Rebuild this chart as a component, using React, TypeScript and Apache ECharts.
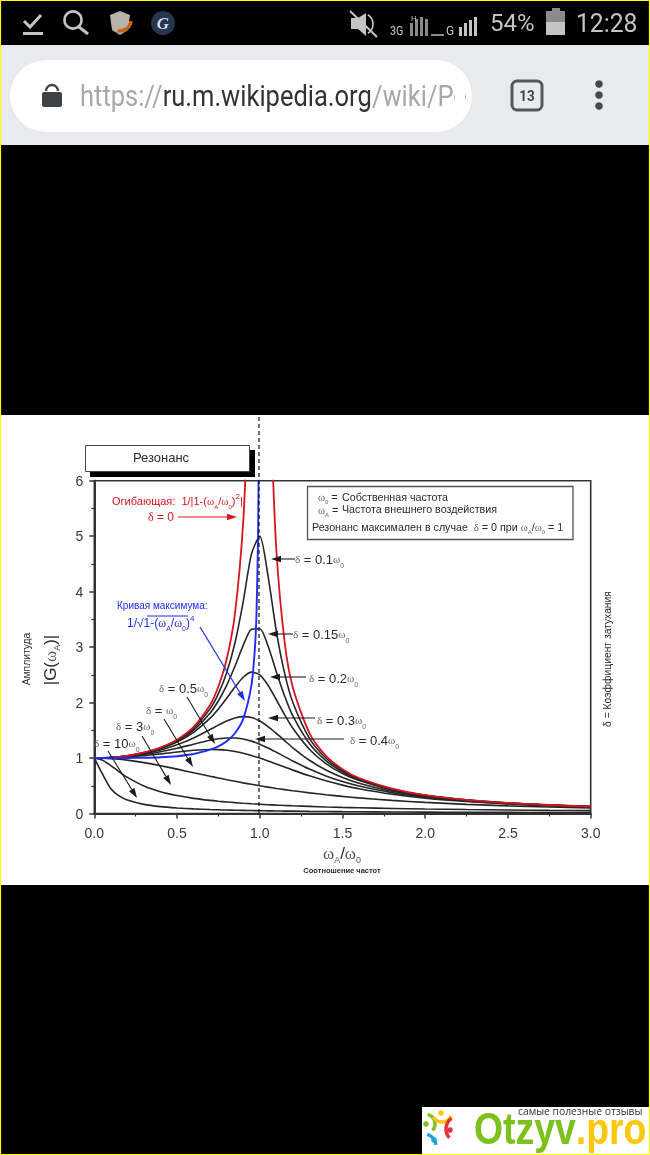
import React, { useEffect, useRef } from "react";
import * as echarts from "echarts";

// Frequency ratio samples used by the black family of curves
const ratios = [0, 0.05, 0.1, 0.15, 0.2, 0.3, 0.4, 0.5, 0.6, 0.7, 0.75, 0.8, 0.85, 0.9, 0.95, 1, 1.05, 1.1, 1.15, 1.2, 1.3, 1.4, 1.5, 1.6, 1.8, 2, 2.25, 2.5, 2.75, 3];
const delta01 = [1, 1.002, 1.01, 1.023, 1.041, 1.097, 1.185, 1.322, 1.536, 1.891, 2.162, 2.538, 3.073, 3.82, 4.68, 5, 4.28, 3.29, 2.53, 2.0, 1.356, 1.0, 0.778, 0.628, 0.441, 0.33, 0.245, 0.19, 0.152, 0.125];
const delta015 = [1, 1.002, 1.01, 1.022, 1.04, 1.094, 1.179, 1.307, 1.504, 1.813, 2.033, 2.311, 2.654, 3.03, 3.32, 3.33, 3.02, 2.556, 2.12, 1.759, 1.262, 0.954, 0.753, 0.613, 0.434, 0.327, 0.243, 0.189, 0.151, 0.124];
const delta02 = [1, 1.002, 1.009, 1.021, 1.038, 1.089, 1.169, 1.288, 1.463, 1.719, 1.885, 2.076, 2.279, 2.457, 2.549, 2.5, 2.313, 2.051, 1.783, 1.536, 1.157, 0.9, 0.721, 0.593, 0.425, 0.322, 0.24, 0.187, 0.151, 0.124];
const delta03 = [1, 1.002, 1.008, 1.018, 1.034, 1.078, 1.145, 1.238, 1.362, 1.514, 1.593, 1.667, 1.723, 1.747, 1.729, 1.667, 1.567, 1.444, 1.314, 1.185, 0.96, 0.784, 0.649, 0.546, 0.402, 0.309, 0.234, 0.183, 0.148, 0.122];
const delta04 = [1, 1.002, 1.007, 1.015, 1.027, 1.063, 1.112, 1.176, 1.25, 1.32, 1.347, 1.362, 1.362, 1.343, 1.305, 1.25, 1.182, 1.105, 1.026, 0.947, 0.801, 0.678, 0.577, 0.496, 0.376, 0.294, 0.225, 0.178, 0.145, 0.12];
const delta05 = [1, 1.001, 1.005, 1.011, 1.02, 1.044, 1.075, 1.109, 1.14, 1.155, 1.152, 1.14, 1.118, 1.087, 1.047, 1, 0.948, 0.893, 0.838, 0.782, 0.679, 0.589, 0.512, 0.447, 0.348, 0.277, 0.215, 0.172, 0.141, 0.117];
const delta1 = [1, 0.998, 0.99, 0.978, 0.962, 0.917, 0.862, 0.8, 0.735, 0.671, 0.64, 0.61, 0.581, 0.552, 0.526, 0.5, 0.476, 0.452, 0.431, 0.41, 0.372, 0.338, 0.308, 0.281, 0.236, 0.2, 0.165, 0.138, 0.117, 0.1];
const delta3 = [1, 0.96, 0.864, 0.753, 0.651, 0.496, 0.393, 0.323, 0.273, 0.236, 0.221, 0.208, 0.196, 0.185, 0.175, 0.167, 0.159, 0.151, 0.145, 0.139, 0.128, 0.118, 0.11, 0.103, 0.091, 0.081, 0.071, 0.063, 0.056, 0.051];
const delta10 = [1, 0.708, 0.448, 0.317, 0.243, 0.165, 0.124, 0.1, 0.083, 0.071, 0.067, 0.062, 0.059, 0.056, 0.053, 0.05, 0.048, 0.045, 0.043, 0.042, 0.038, 0.036, 0.033, 0.031, 0.028, 0.025, 0.022, 0.02, 0.018, 0.017];

// Red envelope, two branches
const envelopeLeftX = [0, 0.1, 0.2, 0.3, 0.4, 0.5, 0.6, 0.7, 0.75, 0.8, 0.85, 0.9, 0.93];
const envelopeLeftY = [1, 1.01, 1.04, 1.1, 1.19, 1.33, 1.56, 1.96, 2.29, 2.78, 3.6, 5.26, 7.4];
const envelopeRightX = [1.07, 1.1, 1.15, 1.2, 1.3, 1.4, 1.5, 1.6, 1.8, 2, 2.25, 2.5, 2.75, 3];
const envelopeRightY = [6.9, 4.76, 3.1, 2.27, 1.45, 1.04, 0.8, 0.64, 0.45, 0.33, 0.246, 0.19, 0.153, 0.125];

// Blue curve of the maxima
const maximaX = [0, 0.1, 0.2, 0.3, 0.4, 0.5, 0.6, 0.7, 0.75, 0.8, 0.85, 0.9, 0.95, 0.97, 0.98, 0.99, 0.995];
const maximaY = [1, 1, 1.001, 1.004, 1.013, 1.033, 1.072, 1.15, 1.209, 1.301, 1.446, 1.705, 2.32, 2.95, 3.59, 5.04, 7.1];

const xTicksMax = 3;
const yTicksMax = 6;
const blackCurves = [delta01, delta015, delta02, delta03, delta04, delta05, delta1, delta3, delta10];

const SANS = "'Liberation Sans', Arial, sans-serif";
const SERIF = "'Liberation Serif', serif";
const INK = "#2b2b2b";
const RED = "#d8141e";
const BLUE = "#1f2df0";

function pairs(xs: number[], ys: number[]) {
  return xs.map((x, i) => [x, ys[i]]);
}

function txt(text: string, x: number, y: number, o: any = {}) {
  const { rotation, scaleX, z, align = "left", ...style } = o;
  return {
    type: "text",
    x,
    y,
    z: z ?? 20,
    rotation,
    scaleX,
    silent: true,
    style: {
      text,
      fill: INK,
      fontSize: 11,
      fontFamily: SANS,
      align,
      textAlign: align,
      verticalAlign: "middle",
      textVerticalAlign: "middle",
      ...style,
    },
  };
}

function richStyles(size: number, fill: string, subFill = "#777", greek = size) {
  return {
    t: { fontSize: size, fontFamily: SANS, fill, lineHeight: size + 6, verticalAlign: "middle" },
    g: { fontSize: greek, fontFamily: SERIF, fill: subFill, lineHeight: size + 6, verticalAlign: "middle" },
    s: { fontSize: Math.round(size * 0.55), fontFamily: SANS, fill: subFill, lineHeight: size + 6, verticalAlign: "bottom" },
    u: { fontSize: Math.round(size * 0.7), fontFamily: SANS, fill, lineHeight: size + 6, verticalAlign: "top" },
  };
}

function arrow(x1: number, y1: number, x2: number, y2: number, color = "#1c1c1c", width = 1.1, head = 10, half = 3.2) {
  const len = Math.hypot(x2 - x1, y2 - y1);
  const ux = (x2 - x1) / len;
  const uy = (y2 - y1) / len;
  const bx = x2 - ux * head;
  const by = y2 - uy * head;
  return [
    { type: "line", z: 18, silent: true, shape: { x1, y1, x2: bx, y2: by }, style: { stroke: color, lineWidth: width } },
    {
      type: "polygon",
      z: 18,
      silent: true,
      shape: { points: [[x2, y2], [bx - uy * half, by + ux * half], [bx + uy * half, by - ux * half]] },
      style: { fill: color },
    },
  ];
}

function deltaLabel(value: string, x: number, y: number) {
  return txt(`{g|δ}{t| = ${value}}{g|ω}{s|0}`, x, y, { rich: richStyles(13, INK, "#666", 11), fontSize: 13 });
}

function chrome() {
  const bg = (x: number, y: number, width: number, height: number, fill: string, z = -5, r = 0) => ({
    type: "rect", z, silent: true, shape: { x, y, width, height, r }, style: { fill },
  });
  const grey = "#c4c4c4";
  const bars = (x0: number, heights: number[], fill: string) =>
    heights.map((h, i) => bg(x0 + i * 5, 36 - h, 3, h, fill, 5));
  return [
    bg(0, 0, 650, 1155, "#000", -10),
    bg(0, 45, 650, 100, "#e9eaee"),
    bg(10, 60, 462, 72, "#fff", -4, 36),
    bg(0, 415, 650, 470, "#fff"),
    bg(422, 1107, 228, 48, "#fff"),
    // status bar
    { type: "polyline", z: 5, silent: true, shape: { points: [[24, 21], [30, 27], [41, 15]] }, style: { stroke: grey, lineWidth: 3, fill: "none" } },
    bg(23, 32, 20, 3, grey, 5),
    { type: "circle", z: 5, silent: true, shape: { cx: 73, cy: 20, r: 8.5 }, style: { stroke: grey, lineWidth: 2.6, fill: "none" } },
    { type: "line", z: 5, silent: true, shape: { x1: 79, y1: 27, x2: 88, y2: 34 }, style: { stroke: grey, lineWidth: 3 } },
    { type: "polygon", z: 5, silent: true, shape: { points: [[110, 15], [120, 11], [130, 15], [128, 30], [120, 35], [112, 30]] }, style: { fill: "#b9b2a6" } },
    { type: "arc", z: 6, silent: true, shape: { cx: 120, cy: 20, r: 11, startAngle: 0.1, endAngle: 1.8 }, style: { stroke: "#c8641a", lineWidth: 3.5, fill: "none" } },
    { type: "circle", z: 5, silent: true, shape: { cx: 163, cy: 23, r: 12 }, style: { fill: "#263650" } },
    txt("G", 163, 23, { align: "center", fill: "#d5dbe6", fontFamily: SERIF, fontSize: 17, fontWeight: "bold", fontStyle: "italic", z: 6 }),
    { type: "polygon", z: 5, silent: true, shape: { points: [[351, 18], [358, 18], [366, 13], [366, 36], [358, 29], [351, 29]] }, style: { fill: grey } },
    { type: "line", z: 6, silent: true, shape: { x1: 350, y1: 11, x2: 377, y2: 37 }, style: { stroke: grey, lineWidth: 2 } },
    { type: "arc", z: 5, silent: true, shape: { cx: 362, cy: 24, r: 11, startAngle: -1, endAngle: 1 }, style: { stroke: grey, lineWidth: 1.6, fill: "none" } },
    txt("3G", 390, 31, { fill: grey, fontFamily: "Roboto", fontSize: 12, scaleX: 0.9 }),
    txt("H", 411, 18, { fill: grey, fontFamily: "Roboto", fontSize: 8 }),
    ...bars(410, [13, 17, 19, 17], "#8a8a8a"),
    txt("G", 446, 31, { fill: grey, fontFamily: "Roboto", fontSize: 12 }),
    ...bars(459, [9, 13, 16, 19], grey),
    bg(431, 34, 13, 2, "#8a8a8a", 5),
    txt("54%", 490, 23, { fill: grey, fontFamily: "Roboto", fontSize: 24, scaleX: 1 }),
    bg(552, 8, 8, 4, "#8a8a8a", 5),
    bg(546, 11, 19, 11, "#8a8a8a", 5),
    bg(546, 22, 19, 13, grey, 5),
    txt("12:28", 576, 23, { fill: grey, fontFamily: "Roboto", fontSize: 26, scaleX: 0.95 }),
    // address bar
    bg(42, 92, 20, 15, "#3f4348", 5, 2),
    { type: "arc", z: 5, silent: true, shape: { cx: 52, cy: 91, r: 6, startAngle: Math.PI, endAngle: 0 }, style: { stroke: "#3f4348", lineWidth: 2.4, fill: "none" } },
    txt("{a|https://}{b|ru.m.wikipedia.org}{a|/wiki/Pe}", 80, 96, {
      scaleX: 0.85,
      fontSize: 30,
      fontFamily: "Roboto",
      rich: {
        a: { fontSize: 30, fontFamily: "Roboto", fill: "#a8a8a8" },
        b: { fontSize: 30, fontFamily: "Roboto", fill: "#333" },
      },
      z: 5,
    }),
    bg(455, 80, 10, 32, "#fff", 6),
    { type: "rect", z: 5, silent: true, shape: { x: 512, y: 81, width: 30, height: 29, r: 5 }, style: { stroke: "#54575c", lineWidth: 3, fill: "none" } },
    txt("13", 527, 96, { align: "center", fill: "#3f4348", fontFamily: "Roboto", fontWeight: "bold", fontSize: 15, scaleX: 0.9, z: 6 }),
    { type: "circle", z: 5, silent: true, shape: { cx: 599, cy: 84, r: 3.8 }, style: { fill: "#45484d" } },
    { type: "circle", z: 5, silent: true, shape: { cx: 599, cy: 95, r: 3.8 }, style: { fill: "#45484d" } },
    { type: "circle", z: 5, silent: true, shape: { cx: 599, cy: 106, r: 3.8 }, style: { fill: "#45484d" } },
    // logo
    txt("самые полезные отзывы", 518, 1111, { fill: "#333", fontFamily: "'Open Sans'", fontSize: 10.3 }),
    txt("{g|Otzyv}{y|.pro}", 474, 1129, {
      scaleX: 0.85,
      fontSize: 44,
      rich: {
        g: { fontSize: 44, fontFamily: SANS, fontWeight: "bold", fill: "#7cc11c", lineHeight: 36 },
        y: { fontSize: 44, fontFamily: SANS, fontWeight: "bold", fill: "#fdc70c", lineHeight: 36 },
      },
    }),
    { type: "arc", z: 5, silent: true, shape: { cx: 425, cy: 1124, r: 10, startAngle: -1.3, endAngle: 0.7 }, style: { stroke: "#7cc11c", lineWidth: 3.5, fill: "none" } },
    { type: "circle", z: 5, silent: true, shape: { cx: 426, cy: 1124, r: 2.8 }, style: { fill: "#7cc11c" } },
    { type: "arc", z: 5, silent: true, shape: { cx: 442, cy: 1112, r: 10, startAngle: 0.4, endAngle: 2.6 }, style: { stroke: "#fdc70c", lineWidth: 3.5, fill: "none" } },
    { type: "circle", z: 5, silent: true, shape: { cx: 441, cy: 1113, r: 2.8 }, style: { fill: "#fdc70c" } },
    { type: "arc", z: 5, silent: true, shape: { cx: 459, cy: 1129, r: 13, startAngle: 2.4, endAngle: 4.1 }, style: { stroke: "#e8303a", lineWidth: 3.5, fill: "none" } },
    { type: "circle", z: 5, silent: true, shape: { cx: 450, cy: 1130, r: 2.8 }, style: { fill: "#e8303a" } },
    { type: "arc", z: 5, silent: true, shape: { cx: 424, cy: 1146, r: 12, startAngle: -1.3, endAngle: -0.1 }, style: { stroke: "#1fa3d8", lineWidth: 3.5, fill: "none" } },
    { type: "circle", z: 5, silent: true, shape: { cx: 434, cy: 1140, r: 2.8 }, style: { fill: "#1fa3d8" } },
    // image edge
    { type: "rect", z: 30, silent: true, shape: { x: 0.5, y: 0.5, width: 649, height: 1154 }, style: { stroke: "#ffff00", lineWidth: 1.2, fill: "none" } },
  ];
}

function annotations() {
  const redRich = richStyles(11, RED, RED);
  const boxRich = richStyles(10.7, INK, "#666");
  return [
    // title plate
    { type: "rect", z: 15, silent: true, shape: { x: 90, y: 450, width: 165, height: 27 }, style: { fill: "#000" } },
    { type: "rect", z: 16, silent: true, shape: { x: 85.5, y: 445.5, width: 164, height: 26 }, style: { fill: "#fff", stroke: "#444", lineWidth: 1 } },
    txt("Резонанс", 161, 457, { align: "center", fontSize: 13 }),
    // dashed resonance line
    { type: "line", z: 17, silent: true, shape: { x1: 259, y1: 417, x2: 259, y2: 813 }, style: { stroke: "#111", lineWidth: 1.2, lineDash: [4, 3] } },
    // legend box
    { type: "rect", z: 16, silent: true, shape: { x: 307.5, y: 486.5, width: 265.5, height: 53 }, style: { fill: "#fff", stroke: "#555", lineWidth: 1.3 } },
    txt("{g|ω}{s|0}{t| =}", 318, 497, { rich: boxRich }),
    txt("Собственная частота", 342, 497, { fontSize: 10.7 }),
    txt("{g|ω}{s|A}{t| =}", 318, 510, { rich: boxRich }),
    txt("Частота внешнего воздействия", 342, 509, { fontSize: 10.7 }),
    txt("{t|Резонанс максимален в случае  }{g|δ}{t| = 0 при }{g|ω}{s|A}{t|/}{g|ω}{s|0}{t| = 1}", 312, 527, { rich: boxRich }),
    // red note
    txt("{t|Огибающая:  1/|1-(}{g|ω}{s|A}{t|/}{g|ω}{s|0}{t|)}{u|2}{t||}", 112, 501, { rich: redRich }),
    txt("{g|δ}{t| = 0}", 148, 517, { rich: richStyles(12, RED, RED) }),
    ...arrow(178, 517, 237, 517, RED, 1.2),
    // blue note
    txt("Кривая максимума:", 117, 605, { fontSize: 10, fill: BLUE }),
    txt("{t|1/√1-(}{g|ω}{s|A}{t|/}{g|ω}{s|0}{t|)}{u|4}", 127, 623, { rich: richStyles(12, BLUE, BLUE) }),
    { type: "line", z: 18, silent: true, shape: { x1: 147, y1: 616, x2: 188, y2: 616 }, style: { stroke: BLUE, lineWidth: 1 } },
    ...arrow(200, 627, 245, 701, BLUE, 1.2),
    // damping labels and their arrows
    deltaLabel("0.1", 295, 559),
    ...arrow(295, 559, 271, 559),
    deltaLabel("0.15", 293, 634),
    ...arrow(293, 634, 268, 634),
    deltaLabel("0.2", 309, 678),
    ...arrow(306, 677, 270, 677),
    deltaLabel("0.3", 317, 720),
    ...arrow(315, 718, 268, 718),
    deltaLabel("0.4", 350, 740),
    ...arrow(344, 739, 255, 739),
    deltaLabel("0.5", 159, 688),
    ...arrow(187, 697, 215, 744),
    txt("{g|δ}{t| = }{g|ω}{s|0}", 146, 710, { rich: richStyles(13, INK, "#666", 11) }),
    ...arrow(164, 719, 193, 767),
    deltaLabel("3", 116, 726),
    ...arrow(142, 736, 171, 785),
    deltaLabel("10", 94, 743),
    ...arrow(108, 751, 137, 798),
    // axis titles
    txt("Амплитуда", 26, 659, { align: "center", fontSize: 10.3, rotation: Math.PI / 2 }),
    txt("{t||G(}{g|ω}{s|A}{t|)|}", 50, 660, { align: "center", rotation: Math.PI / 2, rich: richStyles(17, INK, "#555") }),
    txt("{g|ω}{s|A}{t|/}{g|ω}{s|0}", 342, 853, { align: "center", rich: richStyles(17, INK, "#555") }),
    txt("Соотношение частот", 342, 870, { align: "center", fontSize: 7.5, fontWeight: "bold" }),
    txt("δ = Коэффициент затухания", 607, 659, { align: "center", fontSize: 10.3, rotation: Math.PI / 2 }),
  ];
}

export default function App() {
  const ref = useRef<HTMLDivElement>(null);
  useEffect(() => {
    document.body.style.margin = "0";
    document.body.style.background = "#000";
    const chart = echarts.init(ref.current!, undefined, { renderer: "svg" });
    const axisBase = {
      type: "value" as const,
      axisLine: { show: true, onZero: false, lineStyle: { color: "#333", width: 2 } },
      axisTick: { show: true, length: 5, lineStyle: { color: "#333", width: 1.5 } },
      minorTick: { show: true, splitNumber: 2, length: 3, lineStyle: { color: "#333", width: 1.2 } },
      splitLine: { show: false },
    };
    chart.setOption({
      animation: false,
      backgroundColor: "transparent",
      grid: {
        left: 94.3,
        top: 480.7,
        width: 496.4,
        height: 332.8,
        show: true,
        backgroundColor: "transparent",
        borderColor: "#333",
        borderWidth: 1.6,
      },
      xAxis: {
        ...axisBase,
        min: 0,
        max: xTicksMax,
        interval: 0.5,
        axisLabel: { fontSize: 14, color: "#3a3a3a", fontFamily: SANS, margin: 12, formatter: (v: number) => v.toFixed(1) },
      },
      yAxis: {
        ...axisBase,
        min: 0,
        max: yTicksMax,
        interval: 1,
        axisLabel: { fontSize: 14, color: "#3a3a3a", fontFamily: SANS, margin: 11 },
      },
      series: [
        ...blackCurves.map((vals, i) => ({
          type: "line",
          name: `delta-${i}`,
          data: pairs(ratios, vals),
          smooth: 0.25,
          showSymbol: false,
          z: 3,
          lineStyle: { color: "#262626", width: 1.6 },
        })),
        { type: "line", data: pairs(envelopeLeftX, envelopeLeftY), smooth: 0.25, showSymbol: false, z: 4, lineStyle: { color: RED, width: 1.8 } },
        { type: "line", data: pairs(envelopeRightX, envelopeRightY), smooth: 0.25, showSymbol: false, z: 4, lineStyle: { color: RED, width: 1.8 } },
        { type: "line", data: pairs(maximaX, maximaY), smooth: 0.25, showSymbol: false, z: 5, lineStyle: { color: BLUE, width: 1.9 } },
      ],
      graphic: { elements: [...chrome(), ...annotations()] },
    });
    return () => chart.dispose();
  }, []);
  return <div ref={ref} style={{ width: 650, height: 1155, filter: "blur(0.4px)" }} />;
}
